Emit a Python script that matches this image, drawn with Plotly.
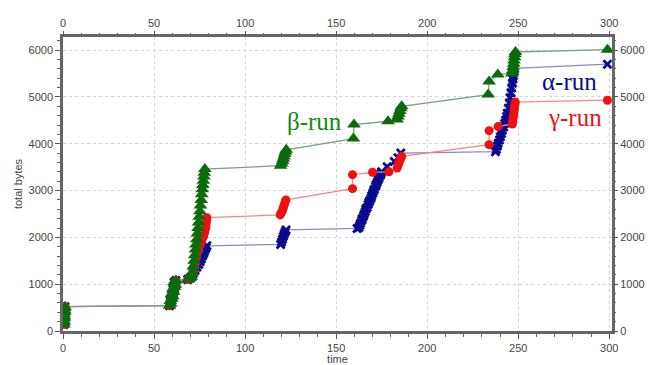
import plotly.graph_objects as go

# ---- data (time, total bytes) ----
common_t = [0.5, 0.6, 0.5, 0.7, 0.8, 0.6, 0.9, 1.0, 0.8, 1.1,
            58.5, 59.2, 58.9, 59.8, 60.3, 59.6, 60.8, 60.4, 61.2, 61.7, 61.0, 62.0,
            68.5, 69.8, 70.5]
common_b = [140, 180, 220, 270, 310, 350, 400, 440, 490, 520,
            540, 590, 640, 690, 740, 790, 840, 890, 940, 990, 1040, 1080,
            1100, 1130, 1160]

beta_t = [71.0, 71.5, 72.0, 72.3, 72.8, 73.0, 73.5, 73.8, 74.2, 74.5, 74.8, 75.2, 75.5, 75.9,
          76.2, 76.5, 76.8, 77.1, 77.4, 77.6, 77.9,
          119.5, 120.2, 120.6, 121.0, 121.4, 121.8, 122.2, 122.6,
          159.5, 159.8, 178.5,
          183.5, 184.0, 184.5, 185.0, 185.5, 186.0,
          233.5, 234.0, 238.8,
          246.5, 247.0, 247.2, 247.5, 247.7, 248.0, 248.2, 248.5,
          299.0]
beta_b = [1250, 1380, 1500, 1620, 1740, 1850, 1960, 2080, 2200, 2320, 2440, 2560, 2680, 2800,
          2920, 3030, 3120, 3210, 3300, 3380, 3460,
          3530, 3580, 3630, 3680, 3730, 3780, 3830, 3870,
          4110, 4410, 4480,
          4520, 4580, 4640, 4700, 4760, 4800,
          5050, 5330, 5480,
          5500, 5570, 5640, 5710, 5780, 5850, 5910, 5960,
          6010]

gamma_t = [71.5, 72.5, 73.5, 74.5, 75.5, 76.5, 77.3, 77.8, 78.2, 78.5, 78.7, 78.9, 79.0,
           119.3, 119.8, 120.4, 120.8, 121.2, 121.6, 122.0, 122.4,
           159.0, 159.0, 170.0, 179.0,
           183.5, 184.0, 184.5, 185.0, 185.5, 186.0,
           234.0, 234.0, 239.0,
           246.8, 247.0, 247.2, 247.4, 247.6, 247.8, 248.0, 248.2, 248.4,
           299.0]
gamma_b = [1250, 1420, 1580, 1720, 1850, 1960, 2030, 2100, 2170, 2240, 2310, 2370, 2420,
           2480, 2520, 2560, 2610, 2660, 2710, 2760, 2800,
           3040, 3340, 3390, 3400,
           3480, 3540, 3590, 3640, 3690, 3730,
           3980, 4280, 4370,
           4420, 4480, 4540, 4600, 4660, 4720, 4780, 4840, 4890,
           4930]

alpha_t = [71.5, 72.5, 73.5, 74.5, 75.3, 76.0, 76.6, 77.2, 77.7, 78.2, 78.6, 79.0,
           119.5, 120.0, 120.5, 121.0, 121.5, 122.0, 122.5,
           161.5, 162.5, 163.0, 163.4, 164.0, 164.3, 165.0, 165.4, 166.0, 166.3, 167.0, 167.6,
           168.0, 168.5, 169.2, 169.5, 170.1, 170.6, 171.0, 171.7, 172.0, 172.6, 173.1, 173.5,
           174.2, 174.6, 175.0,
           178.0, 182.0, 184.0, 185.5,
           237.5, 238.0, 238.6, 239.0, 239.7, 240.2, 240.8, 241.3, 242.0, 242.5, 243.1, 243.6,
           244.0, 244.6, 245.1, 245.5, 246.0, 246.4, 246.8, 247.1, 247.4, 247.7, 248.0,
           299.0]
alpha_b = [1230, 1300, 1360, 1420, 1480, 1540, 1600, 1650, 1700, 1750, 1790, 1820,
           1850, 1900, 1960, 2020, 2070, 2120, 2160,
           2190, 2210, 2260, 2300, 2360, 2400, 2450, 2500, 2550, 2600, 2640, 2700,
           2750, 2790, 2840, 2890, 2940, 2990, 3030, 3090, 3130, 3180, 3230, 3270,
           3320, 3360, 3400,
           3510, 3620, 3700, 3800,
           3830, 3880, 3950, 4010, 4080, 4150, 4220, 4290, 4360, 4430, 4500, 4580,
           4650, 4760, 4870, 4980, 5090, 5190, 5290, 5380, 5460, 5540, 5610,
           5700]

labels = ["α-run", "β-run", "γ-run"]
label_pos_t = [278, 138, 281]
label_pos_b = [5330, 4475, 4560]

fig = go.Figure()

fig.add_trace(go.Scatter(
    x=common_t + alpha_t, y=common_b + alpha_b, mode="lines+markers", name=labels[0],
    line=dict(color="#8a8ac8", width=1.3),
    marker=dict(symbol="x-thin", size=8, color="#0a0a8c", line=dict(color="#0a0a8c", width=2.8)),
))
fig.add_trace(go.Scatter(
    x=common_t + gamma_t, y=common_b + gamma_b, mode="lines+markers", name=labels[2],
    line=dict(color="#f08a8a", width=1.3),
    marker=dict(symbol="circle", size=9, color="#f01010"),
))
fig.add_trace(go.Scatter(
    x=common_t + beta_t, y=common_b + beta_b, mode="lines+markers", name=labels[1],
    line=dict(color="#7aa07a", width=1.3),
    marker=dict(symbol="triangle-up", size=12, color="#0b6b0b"),
))
# empty trace to register the mirrored top/right axes
fig.add_trace(go.Scatter(x=[None], y=[None], xaxis="x2", yaxis="y2", showlegend=False,
                         hoverinfo="skip"))

label_colors = ["#0a0a8c", "#118a11", "#f01010"]
for txt, tx, by, c in zip(labels, label_pos_t, label_pos_b, label_colors):
    fig.add_annotation(x=tx, y=by, text=txt, showarrow=False,
                       font=dict(family="Liberation Serif", size=25, color=c))

tickfont = dict(family="Liberation Sans", size=11, color="#444")
common_axis = dict(
    ticks="outside", ticklen=5, tickwidth=1, tickcolor="#555",
    tickfont=tickfont, zeroline=False, automargin=False,
)
fig.update_layout(
    width=662, height=365,
    margin=dict(l=63, r=50, t=37, b=34),
    paper_bgcolor="white", plot_bgcolor="white",
    showlegend=False,
    xaxis=dict(range=[0, 301.5], tick0=0, dtick=50, showline=True, linewidth=2.5,
               linecolor="#666", mirror=True, showgrid=True, gridcolor="#d4d4d4",
               griddash="dot", gridwidth=1,
               minor=dict(ticks="outside", dtick=10, ticklen=3, tickcolor="#666"),
               title=dict(text="time", font=dict(family="Liberation Sans", size=11, color="#444"),
                          standoff=1),
               **common_axis),
    yaxis=dict(range=[0, 6280], tick0=0, dtick=1000, showline=True, linewidth=2.5,
               linecolor="#666", mirror=True, showgrid=True, gridcolor="#d4d4d4",
               griddash="dot", gridwidth=1,
               minor=dict(ticks="outside", dtick=200, ticklen=3, tickcolor="#666"),
               title=dict(text="total bytes", font=dict(family="Liberation Sans", size=11, color="#444"),
                          standoff=4),
               **common_axis),
    xaxis2=dict(overlaying="x", side="top", matches="x", range=[0, 301.5], tick0=0, dtick=50,
                showgrid=False, showline=False,
                minor=dict(ticks="outside", dtick=10, ticklen=3, tickcolor="#666"),
                **common_axis),
    yaxis2=dict(overlaying="y", side="right", matches="y", range=[0, 6280], tick0=0, dtick=1000,
                showgrid=False, showline=False,
                minor=dict(ticks="outside", dtick=200, ticklen=3, tickcolor="#666"),
                **common_axis),
)

fig.write_html("out.html")
